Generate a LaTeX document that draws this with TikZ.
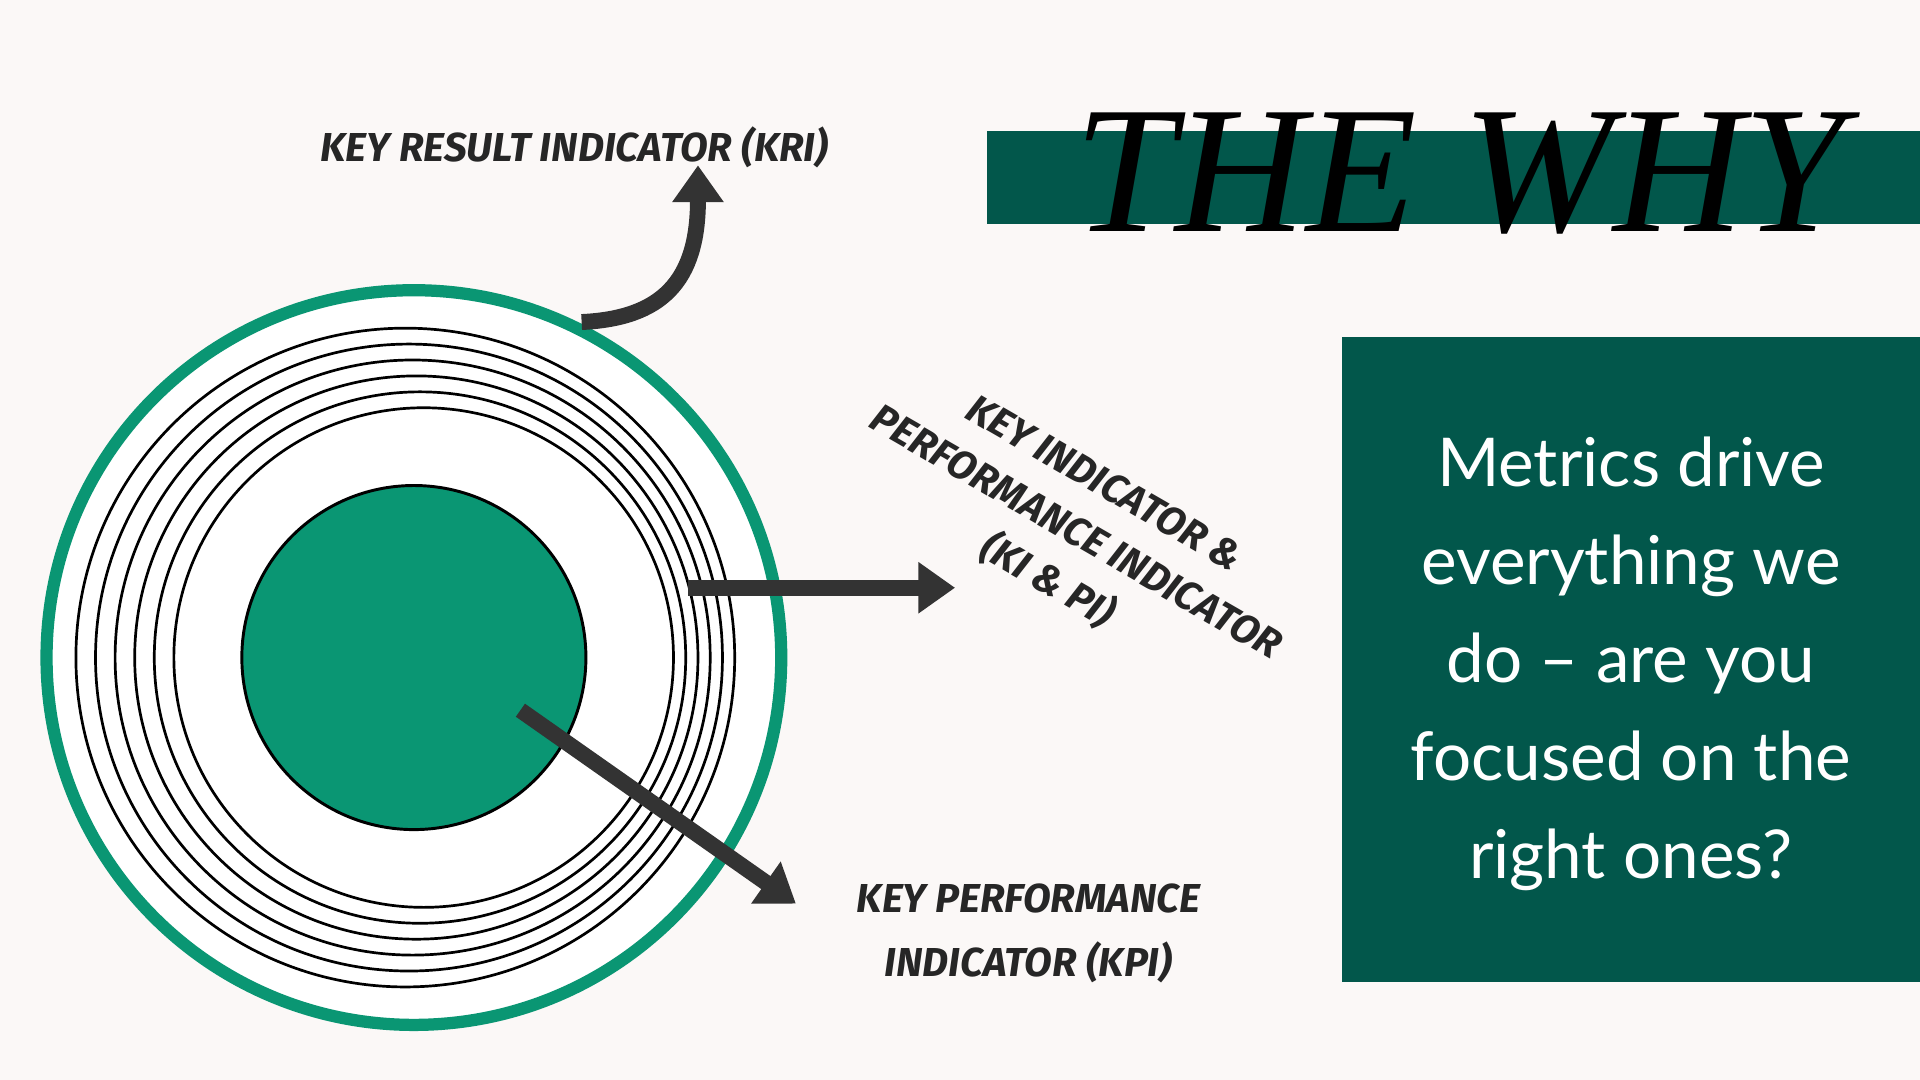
\documentclass[tikz,border=0pt]{standalone}
\usepackage{fontspec}
\setmainfont{Liberation Serif}
\newfontfamily\hand{Fira Sans}
\newfontfamily\body{Lato}
\usetikzlibrary{arrows.meta}
\definecolor{bg}{HTML}{FBF8F7}
\definecolor{dgreen}{HTML}{02574B}
\definecolor{mgreen}{HTML}{0A9673}
\definecolor{arr}{HTML}{333333}
\begin{document}
\begin{tikzpicture}[x=1pt,y=-1pt,
  arrowline/.style={draw=arr,line width=13pt,-{Triangle[length=30pt,width=40pt]}},
  lab/.style={font=\hand\bfseries\itshape\fontsize{33}{46}\selectfont,text=black!85,align=center},
  ring/.style={draw=black,line width=2.2pt}]
\fill[bg] (0,0) rectangle (1568,882);
\useasboundingbox (0,0) rectangle (1568,882);
% circles
\node[circle,draw=mgreen,line width=10pt,fill=white,minimum size=600pt,inner sep=0] (outer) at (338,537) {};
\foreach \i in {0,...,5}{
  \pgfmathsetmacro\l{62+16*\i}
  \pgfmathsetmacro\r{600-10*\i}
  \pgfmathsetmacro\c{(\l+\r)/2}
  \pgfmathsetmacro\rad{(\r-\l)/2}
  \draw[ring] (\c,537) circle[radius=\rad];
}
\node[circle,draw=black,line width=2.4pt,fill=mgreen,minimum size=281pt,inner sep=0] (core) at (338,537) {};
% arrows
\coordinate (a1s) at (475,263);
\coordinate (a1e) at (570,135);
\draw[arrowline] (a1s) .. controls (540,260) and (570,230) .. (a1e);
\coordinate (a2s) at (562,480);
\coordinate (a2e) at (780,480);
\draw[arrowline] (a2s) -- (a2e);
\coordinate (a3s) at (425,580);
\coordinate (a3e) at (650,738);
\draw[arrowline] (a3s) -- (a3e);
% labels
\node[lab] (kri) at (469,120) {KEY RESULT INDICATOR (KRI)};
\node[lab,rotate=-30] (kipi) at (878,436) {KEY INDICATOR \&\\PERFORMANCE INDICATOR\\(KI \& PI)};
\node[lab,font=\hand\bfseries\itshape\fontsize{33}{52}\selectfont] (kpi) at (840,762) {KEY PERFORMANCE\\INDICATOR (KPI)};
% title
\fill[dgreen] (806,107) rectangle (1568,183);
\node[font=\itshape\fontsize{148}{148}\selectfont,anchor=center,inner sep=0] (why) at (1192,142) {THE WHY};
% box
\fill[dgreen] (1096,275) rectangle (1568,802);
\node[font=\body\fontsize{55}{80}\selectfont,text=white,align=center] (msg) at (1332,542) {Metrics drive\\everything we\\do – are you\\focused on the\\right ones?};
\end{tikzpicture}
\end{document}
